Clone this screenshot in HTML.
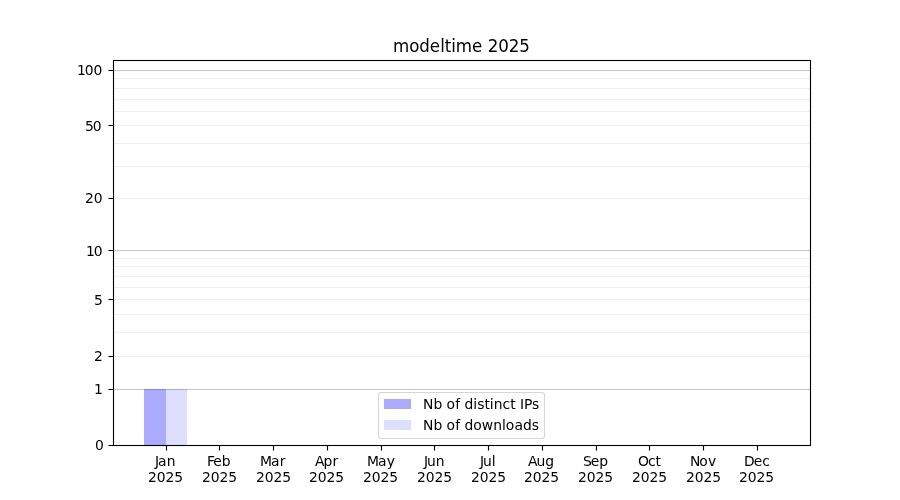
<!DOCTYPE html>
<html><head><meta charset="utf-8"><title>modeltime 2025</title>
<style>
html,body{margin:0;padding:0;background:#fff;}
body{width:900px;height:500px;overflow:hidden;}
svg{display:block;}
svg text{font-family:'DejaVu Sans', 'Liberation Sans', sans-serif;fill:#000;}
.txt{will-change:transform;}
</style></head>
<body>
<svg width="900" height="500" viewBox="0 0 900 500">
<rect x="0" y="0" width="900" height="500" fill="#fff"/>
<g shape-rendering="crispEdges">
<rect x="113" y="78" width="698" height="1" fill="#f0f0f0"/>
<rect x="113" y="88" width="698" height="1" fill="#f0f0f0"/>
<rect x="113" y="99" width="698" height="1" fill="#f0f0f0"/>
<rect x="113" y="111" width="698" height="1" fill="#f0f0f0"/>
<rect x="113" y="125" width="698" height="1" fill="#f0f0f0"/>
<rect x="113" y="143" width="698" height="1" fill="#f0f0f0"/>
<rect x="113" y="166" width="698" height="1" fill="#f0f0f0"/>
<rect x="113" y="198" width="698" height="1" fill="#f0f0f0"/>
<rect x="113" y="258" width="698" height="1" fill="#f0f0f0"/>
<rect x="113" y="266" width="698" height="1" fill="#f0f0f0"/>
<rect x="113" y="276" width="698" height="1" fill="#f0f0f0"/>
<rect x="113" y="287" width="698" height="1" fill="#f0f0f0"/>
<rect x="113" y="299" width="698" height="1" fill="#f0f0f0"/>
<rect x="113" y="314" width="698" height="1" fill="#f0f0f0"/>
<rect x="113" y="332" width="698" height="1" fill="#f0f0f0"/>
<rect x="113" y="356" width="698" height="1" fill="#f0f0f0"/>
<rect x="113" y="70" width="698" height="1" fill="#cbcbcb"/>
<rect x="113" y="69" width="698" height="1" fill="#000" fill-opacity="0.016"/>
<rect x="113" y="71" width="698" height="1" fill="#000" fill-opacity="0.016"/>
<rect x="113" y="250" width="698" height="1" fill="#cbcbcb"/>
<rect x="113" y="249" width="698" height="1" fill="#000" fill-opacity="0.016"/>
<rect x="113" y="251" width="698" height="1" fill="#000" fill-opacity="0.016"/>
<rect x="113" y="389" width="698" height="1" fill="#cbcbcb"/>
<rect x="113" y="388" width="698" height="1" fill="#000" fill-opacity="0.016"/>
<rect x="113" y="390" width="698" height="1" fill="#000" fill-opacity="0.016"/>
<rect x="144" y="389" width="22" height="56" fill="#0000ff" fill-opacity="0.33"/>
<rect x="166" y="389" width="21" height="56" fill="#0000ff" fill-opacity="0.13"/>
<rect x="113" y="60" width="698" height="1" fill="#000"/>
<rect x="113" y="59" width="698" height="1" fill="#000" fill-opacity="0.055"/>
<rect x="114" y="61" width="696" height="1" fill="#000" fill-opacity="0.055"/>
<rect x="113" y="445" width="698" height="1" fill="#000"/>
<rect x="114" y="444" width="696" height="1" fill="#000" fill-opacity="0.055"/>
<rect x="113" y="446" width="698" height="1" fill="#000" fill-opacity="0.055"/>
<rect x="113" y="61" width="1" height="384" fill="#000"/>
<rect x="112" y="60" width="1" height="386" fill="#000" fill-opacity="0.055"/>
<rect x="114" y="62" width="1" height="382" fill="#000" fill-opacity="0.055"/>
<rect x="810" y="61" width="1" height="384" fill="#000"/>
<rect x="809" y="62" width="1" height="382" fill="#000" fill-opacity="0.055"/>
<rect x="811" y="60" width="1" height="386" fill="#000" fill-opacity="0.055"/>
<rect x="109" y="445" width="4" height="1" fill="#000"/>
<rect x="108" y="445" width="1" height="1" fill="#000" fill-opacity="0.5"/>
<rect x="108" y="444" width="5" height="1" fill="#000" fill-opacity="0.055"/>
<rect x="108" y="446" width="5" height="1" fill="#000" fill-opacity="0.055"/>
<rect x="109" y="389" width="4" height="1" fill="#000"/>
<rect x="108" y="389" width="1" height="1" fill="#000" fill-opacity="0.5"/>
<rect x="108" y="388" width="5" height="1" fill="#000" fill-opacity="0.055"/>
<rect x="108" y="390" width="5" height="1" fill="#000" fill-opacity="0.055"/>
<rect x="109" y="356" width="4" height="1" fill="#000"/>
<rect x="108" y="356" width="1" height="1" fill="#000" fill-opacity="0.5"/>
<rect x="108" y="355" width="5" height="1" fill="#000" fill-opacity="0.055"/>
<rect x="108" y="357" width="5" height="1" fill="#000" fill-opacity="0.055"/>
<rect x="109" y="299" width="4" height="1" fill="#000"/>
<rect x="108" y="299" width="1" height="1" fill="#000" fill-opacity="0.5"/>
<rect x="108" y="298" width="5" height="1" fill="#000" fill-opacity="0.055"/>
<rect x="108" y="300" width="5" height="1" fill="#000" fill-opacity="0.055"/>
<rect x="109" y="250" width="4" height="1" fill="#000"/>
<rect x="108" y="250" width="1" height="1" fill="#000" fill-opacity="0.5"/>
<rect x="108" y="249" width="5" height="1" fill="#000" fill-opacity="0.055"/>
<rect x="108" y="251" width="5" height="1" fill="#000" fill-opacity="0.055"/>
<rect x="109" y="198" width="4" height="1" fill="#000"/>
<rect x="108" y="198" width="1" height="1" fill="#000" fill-opacity="0.5"/>
<rect x="108" y="197" width="5" height="1" fill="#000" fill-opacity="0.055"/>
<rect x="108" y="199" width="5" height="1" fill="#000" fill-opacity="0.055"/>
<rect x="109" y="125" width="4" height="1" fill="#000"/>
<rect x="108" y="125" width="1" height="1" fill="#000" fill-opacity="0.5"/>
<rect x="108" y="124" width="5" height="1" fill="#000" fill-opacity="0.055"/>
<rect x="108" y="126" width="5" height="1" fill="#000" fill-opacity="0.055"/>
<rect x="109" y="70" width="4" height="1" fill="#000"/>
<rect x="108" y="70" width="1" height="1" fill="#000" fill-opacity="0.5"/>
<rect x="108" y="69" width="5" height="1" fill="#000" fill-opacity="0.055"/>
<rect x="108" y="71" width="5" height="1" fill="#000" fill-opacity="0.055"/>
<rect x="166" y="446" width="1" height="4" fill="#000"/>
<rect x="166" y="450" width="1" height="1" fill="#000" fill-opacity="0.5"/>
<rect x="165" y="446" width="1" height="5" fill="#000" fill-opacity="0.055"/>
<rect x="167" y="446" width="1" height="5" fill="#000" fill-opacity="0.055"/>
<rect x="219" y="446" width="1" height="4" fill="#000"/>
<rect x="219" y="450" width="1" height="1" fill="#000" fill-opacity="0.5"/>
<rect x="218" y="446" width="1" height="5" fill="#000" fill-opacity="0.055"/>
<rect x="220" y="446" width="1" height="5" fill="#000" fill-opacity="0.055"/>
<rect x="273" y="446" width="1" height="4" fill="#000"/>
<rect x="273" y="450" width="1" height="1" fill="#000" fill-opacity="0.5"/>
<rect x="272" y="446" width="1" height="5" fill="#000" fill-opacity="0.055"/>
<rect x="274" y="446" width="1" height="5" fill="#000" fill-opacity="0.055"/>
<rect x="327" y="446" width="1" height="4" fill="#000"/>
<rect x="327" y="450" width="1" height="1" fill="#000" fill-opacity="0.5"/>
<rect x="326" y="446" width="1" height="5" fill="#000" fill-opacity="0.055"/>
<rect x="328" y="446" width="1" height="5" fill="#000" fill-opacity="0.055"/>
<rect x="381" y="446" width="1" height="4" fill="#000"/>
<rect x="381" y="450" width="1" height="1" fill="#000" fill-opacity="0.5"/>
<rect x="380" y="446" width="1" height="5" fill="#000" fill-opacity="0.055"/>
<rect x="382" y="446" width="1" height="5" fill="#000" fill-opacity="0.055"/>
<rect x="434" y="446" width="1" height="4" fill="#000"/>
<rect x="434" y="450" width="1" height="1" fill="#000" fill-opacity="0.5"/>
<rect x="433" y="446" width="1" height="5" fill="#000" fill-opacity="0.055"/>
<rect x="435" y="446" width="1" height="5" fill="#000" fill-opacity="0.055"/>
<rect x="488" y="446" width="1" height="4" fill="#000"/>
<rect x="488" y="450" width="1" height="1" fill="#000" fill-opacity="0.5"/>
<rect x="487" y="446" width="1" height="5" fill="#000" fill-opacity="0.055"/>
<rect x="489" y="446" width="1" height="5" fill="#000" fill-opacity="0.055"/>
<rect x="542" y="446" width="1" height="4" fill="#000"/>
<rect x="542" y="450" width="1" height="1" fill="#000" fill-opacity="0.5"/>
<rect x="541" y="446" width="1" height="5" fill="#000" fill-opacity="0.055"/>
<rect x="543" y="446" width="1" height="5" fill="#000" fill-opacity="0.055"/>
<rect x="596" y="446" width="1" height="4" fill="#000"/>
<rect x="596" y="450" width="1" height="1" fill="#000" fill-opacity="0.5"/>
<rect x="595" y="446" width="1" height="5" fill="#000" fill-opacity="0.055"/>
<rect x="597" y="446" width="1" height="5" fill="#000" fill-opacity="0.055"/>
<rect x="649" y="446" width="1" height="4" fill="#000"/>
<rect x="649" y="450" width="1" height="1" fill="#000" fill-opacity="0.5"/>
<rect x="648" y="446" width="1" height="5" fill="#000" fill-opacity="0.055"/>
<rect x="650" y="446" width="1" height="5" fill="#000" fill-opacity="0.055"/>
<rect x="703" y="446" width="1" height="4" fill="#000"/>
<rect x="703" y="450" width="1" height="1" fill="#000" fill-opacity="0.5"/>
<rect x="702" y="446" width="1" height="5" fill="#000" fill-opacity="0.055"/>
<rect x="704" y="446" width="1" height="5" fill="#000" fill-opacity="0.055"/>
<rect x="757" y="446" width="1" height="4" fill="#000"/>
<rect x="757" y="450" width="1" height="1" fill="#000" fill-opacity="0.5"/>
<rect x="756" y="446" width="1" height="5" fill="#000" fill-opacity="0.055"/>
<rect x="758" y="446" width="1" height="5" fill="#000" fill-opacity="0.055"/>
<rect x="378.5" y="392.5" width="166" height="46" rx="2.78" ry="2.78" fill="#fff" fill-opacity="0.8" stroke="#ccc" stroke-opacity="0.8" stroke-width="1.11" shape-rendering="geometricPrecision"/>
<rect x="384" y="399" width="27" height="10" fill="#0000ff" fill-opacity="0.33"/>
<rect x="384" y="420" width="27" height="10" fill="#0000ff" fill-opacity="0.13"/>
</g>
<g class="txt">
<text transform="translate(154.0625,466) scale(1,1.02)" x="0.875 4 12.625" y="0" font-size="13.8889">Jan</text>
<text transform="translate(148.0000,482) scale(1,1.02)" x="0 8.75 17.5 26.25" y="0" font-size="13.8889">2025</text>
<text transform="translate(206.1250,466) scale(1,1.02)" x="0.875 7.25 15.75" y="0" font-size="13.8889">Feb</text>
<text transform="translate(202.0000,482) scale(1,1.02)" x="0 8.75 17.5 26.25" y="0" font-size="13.8889">2025</text>
<text transform="translate(259.8750,466) scale(1,1.02)" x="0 11.125 19.875" y="0" font-size="13.8889">Mar</text>
<text transform="translate(256.0000,482) scale(1,1.02)" x="0 8.75 17.5 26.25" y="0" font-size="13.8889">2025</text>
<text transform="translate(314.0156,466) scale(1,1.06)" x="0.875 9.5 18.375" y="0" font-size="13.8889">Apr</text>
<text transform="translate(309.0000,482) scale(1,1.02)" x="0 8.75 17.5 26.25" y="0" font-size="13.8889">2025</text>
<text transform="translate(366.1250,466) scale(1,1.02)" x="0.875 12 20.625" y="0" font-size="13.8889">May</text>
<text transform="translate(363.0000,482) scale(1,1.02)" x="0 8.75 17.5 26.25" y="0" font-size="13.8889">2025</text>
<text transform="translate(422.9375,466) scale(1,1.04)" x="1 4 12.75" y="0" font-size="13.8889">Jun</text>
<text transform="translate(417.0000,482) scale(1,1.02)" x="0 8.75 17.5 26.25" y="0" font-size="13.8889">2025</text>
<text transform="translate(478.9375,466) scale(1,1.04)" x="1 4 12.75" y="0" font-size="13.8889">Jul</text>
<text transform="translate(471.0000,482) scale(1,1.02)" x="0 8.75 17.5 26.25" y="0" font-size="13.8889">2025</text>
<text x="527.891 536.391 545.141" y="466" font-size="13.8889">Aug</text>
<text transform="translate(524.0000,482) scale(1,1.02)" x="0 8.75 17.5 26.25" y="0" font-size="13.8889">2025</text>
<text transform="translate(582.1250,466) scale(1,1.02)" x="0.875 8.75 17.25" y="0" font-size="13.8889">Sep</text>
<text transform="translate(578.0000,482) scale(1,1.02)" x="0 8.75 17.5 26.25" y="0" font-size="13.8889">2025</text>
<text transform="translate(637.3750,466) scale(1,1.06)" x="0.625 10.625 18.125" y="0" font-size="13.8889">Oct</text>
<text transform="translate(632.0000,482) scale(1,1.02)" x="0 8.75 17.5 26.25" y="0" font-size="13.8889">2025</text>
<text transform="translate(689.1250,466) scale(1,1.04)" x="0.875 10.125 18.875" y="0" font-size="13.8889">Nov</text>
<text transform="translate(686.0000,482) scale(1,1.02)" x="0 8.75 17.5 26.25" y="0" font-size="13.8889">2025</text>
<text transform="translate(743.3750,466) scale(1,1.02)" x="0.625 10.375 18.875" y="0" font-size="13.8889">Dec</text>
<text transform="translate(739.0000,482) scale(1,1.02)" x="0 8.75 17.5 26.25" y="0" font-size="13.8889">2025</text>
<text transform="translate(94.8750,450) scale(1,1.04)" x="0" y="0" font-size="13.8889">0</text>
<text transform="translate(93.9375,394) scale(1,1.02)" x="0" y="0" font-size="13.8889">1</text>
<text transform="translate(93.8750,361) scale(1,1.02)" x="0" y="0" font-size="13.8889">2</text>
<text transform="translate(93.9375,305) scale(1,1.02)" x="0" y="0" font-size="13.8889">5</text>
<text transform="translate(85.1875,256) scale(1,1.04)" x="0.75 8.5" y="0" font-size="13.8889">10</text>
<text transform="translate(85.0000,203) scale(1,1.04)" x="0 8.75" y="0" font-size="13.8889">20</text>
<text transform="translate(83.9375,131) scale(1,1.04)" x="1 8.75" y="0" font-size="13.8889">50</text>
<text x="76.938 84.812 93.562" y="75" font-size="13.8889">100</text>
<text transform="translate(393.0000,52) scale(1,1.06)" x="0 16.25 26.375 36.875 47.25 51.75 58.25 62.875 79.125 89.375 94.75 105.25 115.75 126.375" y="0" font-size="16.6667">modeltime 2025</text>
<text x="423 433.375 442.25 446.375 455.125 460.125 464.5 473.125 477.25 484.375 489.625 493.75 502.5 510.125 515.625 520 524 531.875" y="409" font-size="13.8889">Nb of distinct IPs</text>
<text x="423 433.375 442.25 446.375 455.125 460.125 464.5 473.125 481.625 493.25 502 505.625 514.375 523 531.625" y="430" font-size="13.8889">Nb of downloads</text>
</g>
</svg>
</body></html>
